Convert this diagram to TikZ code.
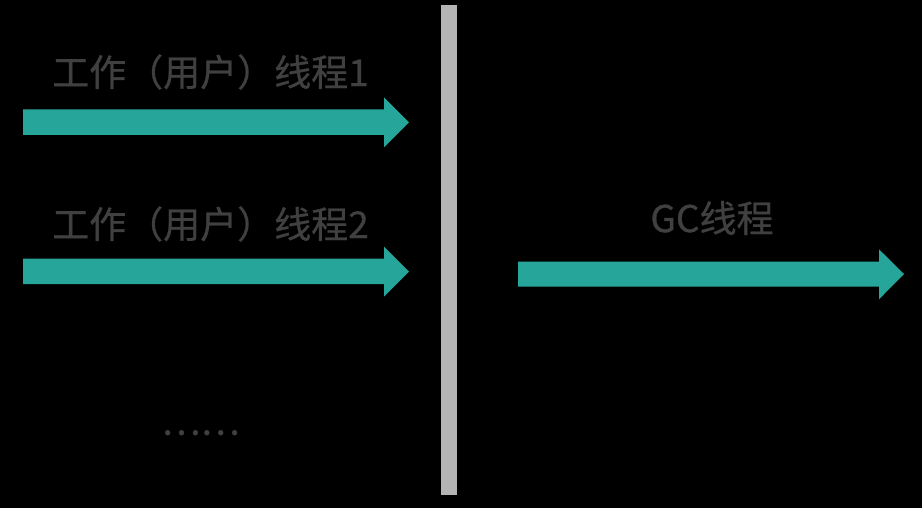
\documentclass[tikz,border=0pt]{standalone}
\usepackage{fontspec}
\setmainfont{Noto Sans CJK SC}
\newfontfamily\labelfont[FakeBold=0.7]{Noto Sans CJK SC}
\definecolor{threadteal}{RGB}{38,166,154}
\definecolor{labelgray}{RGB}{64,64,64}
\definecolor{bargray}{RGB}{180,180,180}
\tikzset{
  threadlabel/.style={text=labelgray, font=\labelfont\fontsize{37}{40}\selectfont, inner sep=0pt},
}
\begin{document}
\begin{tikzpicture}[x=1pt, y=-1pt]
            \useasboundingbox[fill=black] (0,0) rectangle (922,508);
            %frecce
            \fill[threadteal] (23,109.5) -- (384,109.5) -- (384,97.5) -- (409,122.3) -- (384,147.3) -- (384,135) -- (23,135) -- cycle;
            \fill[threadteal] (23,258.5) -- (384,258.5) -- (384,246.7) -- (409,271.7) -- (384,296.7) -- (384,284) -- (23,284) -- cycle;
            \fill[threadteal] (518,261.7) -- (879,261.7) -- (879,249.3) -- (904,274) -- (879,299.3) -- (879,286.7) -- (518,286.7) -- cycle;
            %separatore
            \fill[bargray] (440.7,5) rectangle (456.7,495);
            %etichette
            \node[threadlabel] (worker1) at (210.5,72) {工作（用户）线程1};
            \node[threadlabel] (worker2) at (210.5,224) {工作（用户）线程2};
            \node[threadlabel] (gcthread) at (712,218) {GC线程};
            \node[threadlabel] (more) at (200.5,432.7) {……};
        \end{tikzpicture}
\end{document}
